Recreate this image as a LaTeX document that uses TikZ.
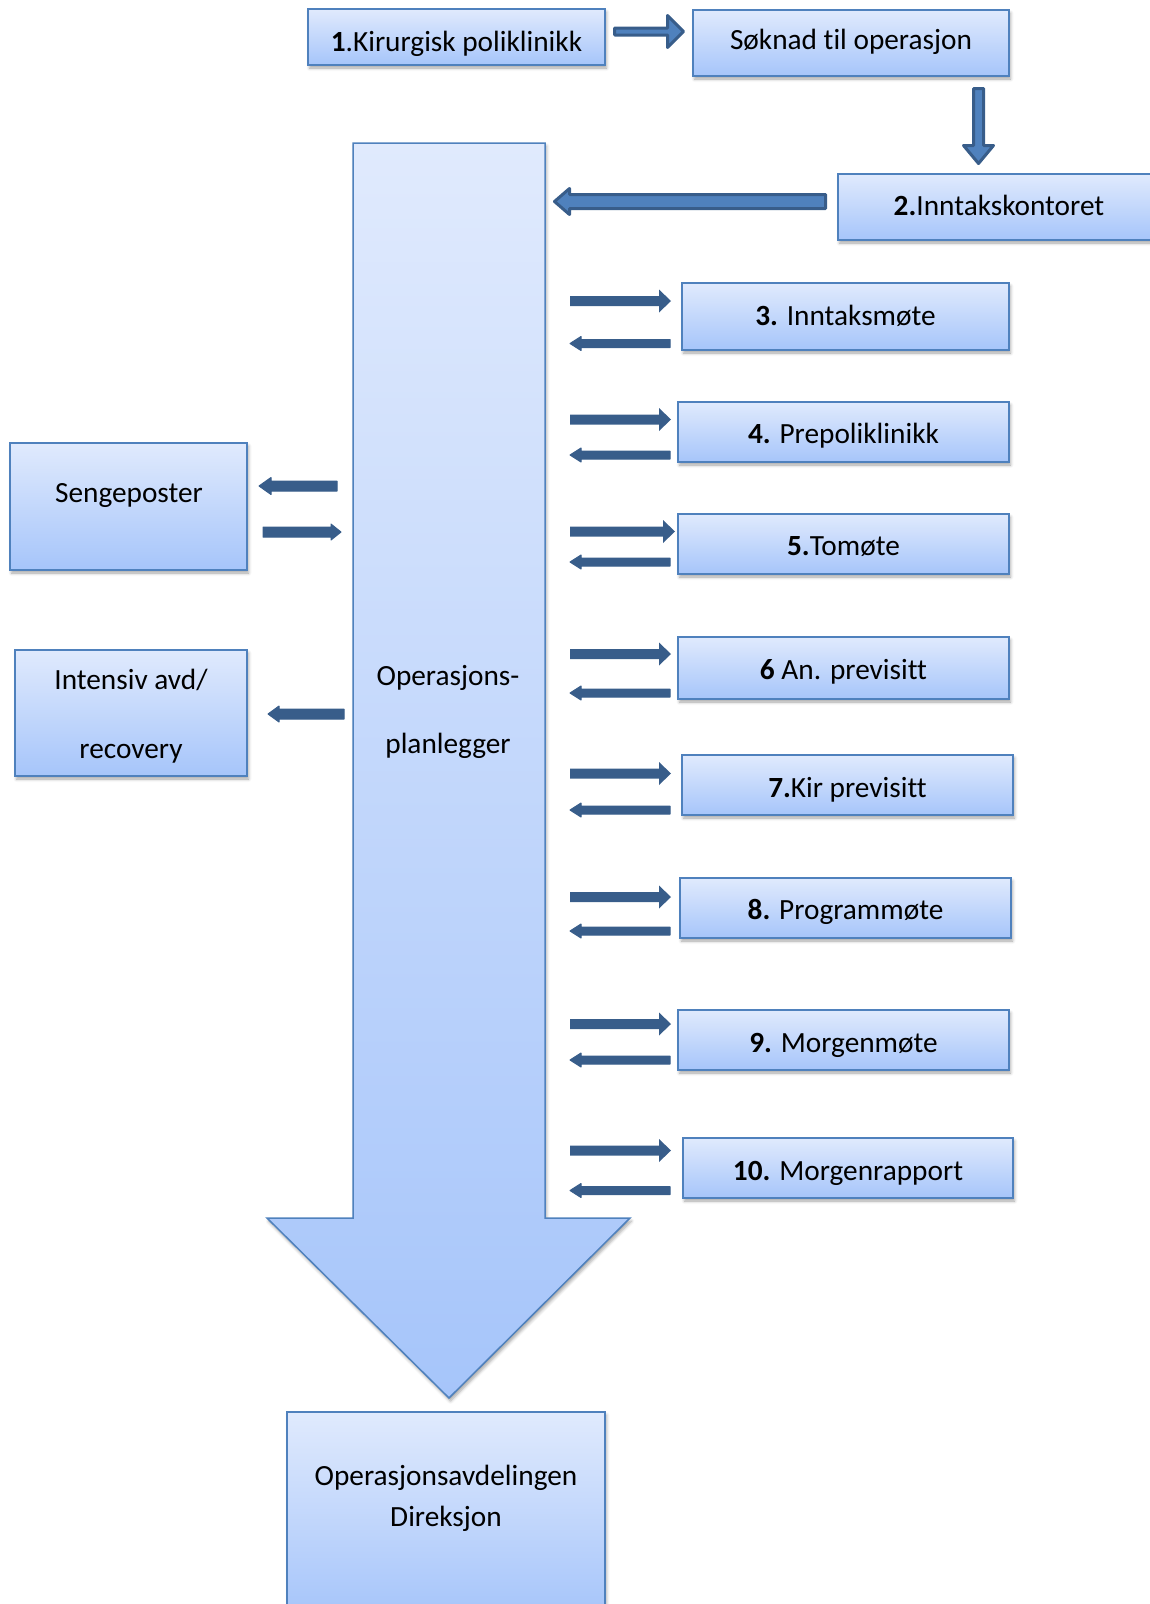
\documentclass[tikz,border=0pt]{standalone}
\usepackage{fontspec}
\setmainfont{Carlito}[Ligatures={NoCommon}]
\usetikzlibrary{calc,shadows.blur}
\definecolor{btop}{HTML}{E0EAFD}
\definecolor{bbot}{HTML}{A6C5FA}
\definecolor{bline}{HTML}{4F81BD}
\definecolor{adark}{HTML}{385D8A}
\definecolor{afill}{HTML}{4F81BD}
\newcommand\boxfont{\fontsize{29.3}{35}\selectfont}
% shift a text line down (#1 = twice the shift) or up inside its box
\newcommand\tdown[2]{\raisebox{0pt}[\dimexpr\height+#1\relax][\depth]{#2}}
\newcommand\tup[2]{\raisebox{0pt}[\height][\dimexpr\depth+#1\relax]{#2}}
% horizontal block arrow: style, start, tip, half shaft, half head, signed head length
\newcommand\harr[6]{\path[#1] let \p1=(#2), \p2=(#3) in
 (\x1,{\y1+#4}) -- ({\x2-(#6)},{\y1+#4}) -- ({\x2-(#6)},{\y1+#5}) -- (\x2,\y1)
 -- ({\x2-(#6)},{\y1-#5}) -- ({\x2-(#6)},{\y1-#4}) -- (\x1,{\y1-#4}) -- cycle;}
% vertical (downward) block arrow
\newcommand\varr[6]{\path[#1] let \p1=(#2), \p2=(#3) in
 ({\x1-#4},\y1) -- ({\x1-#4},{\y2+(#6)}) -- ({\x1-#5},{\y2+(#6)}) -- (\x1,\y2)
 -- ({\x1+#5},{\y2+(#6)}) -- ({\x1+#4},{\y2+(#6)}) -- ({\x1+#4},\y1) -- cycle;}
\tikzset{
 shadebox/.style={top color=btop, bottom color=bbot, draw=bline, line width=1.5pt},
 softshadow/.style={blur shadow={shadow xshift=1.5pt, shadow yshift=-3pt, shadow blur radius=3pt, shadow opacity=35}},
 stepbox/.style={shadebox, softshadow, rectangle, inner sep=0pt, font=\boxfont, align=center},
 plaintext/.style={inner sep=0pt, align=center},
 blockarr/.style={fill=afill, draw=adark, line width=3pt, line join=round},
 solidarr/.style={fill=adark},
 roundarr/.style={fill=adark, draw=adark, line width=1pt, line join=round},
}
\begin{document}
\begin{tikzpicture}[x=1pt,y=-1pt]
\useasboundingbox (0,0) rectangle (1150,1604);

% big arrow (Operasjonsplanlegger)
\path[shadebox, softshadow] (353,143) -- (545,143) -- (545,1218) -- (630,1218)
  -- (449,1398) -- (267,1218) -- (353,1218) -- cycle;
\node[plaintext, font={\fontsize{29.3}{68}\selectfont}] (plan) at (448,711.5) {Operasjons-\\planlegger};

% boxes
\node[stepbox, minimum width=297pt, minimum height=56pt] (b1) at (456.5,37) {\tdown{14pt}{\textbf{1}.Kirurgisk poliklinikk}};
\node[stepbox, minimum width=316pt, minimum height=66pt] (soknad) at (851,43) {\tup{2pt}{Søknad til operasjon}};
\node[stepbox, minimum width=322pt, minimum height=66pt] (b2) at (999,207) {\tup{4pt}{\textbf{2.}Inntakskontoret}};
\node[stepbox, minimum width=327pt, minimum height=67pt] (b3) at (845.5,316.5) {\tup{2pt}{\textbf{3.} Inntaksmøte}};
\node[stepbox, minimum width=331pt, minimum height=60pt] (b4) at (843.5,432) {\tdown{8pt}{\textbf{4.} Prepoliklinikk}};
\node[stepbox, minimum width=331pt, minimum height=60pt] (b5) at (843.5,544) {\tdown{6pt}{\textbf{5.}Tomøte}};
\node[stepbox, minimum width=331pt, minimum height=62pt] (b6) at (843.5,668) {\tdown{8pt}{\textbf{6} An. previsitt}};
\node[stepbox, minimum width=331pt, minimum height=60pt] (b7) at (847.5,785) {\tdown{10pt}{\textbf{7.}Kir previsitt}};
\node[stepbox, minimum width=331pt, minimum height=60pt] (b8) at (845.5,908) {\tdown{8pt}{\textbf{8.} Programmøte}};
\node[stepbox, minimum width=331pt, minimum height=60pt] (b9) at (843.5,1040) {\tdown{10pt}{\textbf{9.} Morgenmøte}};
\node[stepbox, minimum width=330pt, minimum height=60pt] (b10) at (848,1168) {\tdown{10pt}{\textbf{10.} Morgenrapport}};

\node[stepbox, minimum width=237pt, minimum height=127pt] (seng) at (128.5,506.5) {};
\node[plaintext, font=\boxfont] (sengtxt) at (129,496) {Sengeposter};
\node[stepbox, minimum width=232pt, minimum height=126pt] (intens) at (131,713) {};
\node[plaintext, font={\fontsize{29.3}{69}\selectfont}] (intenstxt) at (131,716) {Intensiv avd/\\recovery};
\node[stepbox, minimum width=318pt, minimum height=203pt] (dir) at (446,1513.5) {};
\node[plaintext, font={\fontsize{29.3}{41}\selectfont}] (dirtxt) at (446,1498) {Operasjonsavdelingen\\Direksjon};

% top block arrows
\coordinate (a1s) at (614.5,31.5); \coordinate (a1e) at (683.5,31.5);
\harr{blockarr}{a1s}{a1e}{3.5pt}{16pt}{16pt}
\coordinate (a2s) at (978.5,88.5); \coordinate (a2e) at (978.5,163.5);
\varr{blockarr}{a2s}{a2e}{5pt}{15pt}{18pt}
\coordinate (a3s) at (825.5,201.5); \coordinate (a3e) at (554.5,201.5);
\harr{blockarr}{a3s}{a3e}{7pt}{13pt}{-15pt}

% arrow pairs to the right-hand boxes
\foreach \i/\yr/\yl/\tx in {3/301/343.5/671, 4/419.5/455/671, 5/531.5/562/675,
  6/654/693/671, 7/773.5/810/671, 8/897/931/671, 9/1024/1060/671, 10/1150.5/1190.5/671}{
  \coordinate (r\i s) at (570,\yr); \coordinate (r\i e) at (\tx,\yr);
  \harr{solidarr}{r\i s}{r\i e}{5pt}{11.5pt}{12pt}
  \coordinate (l\i s) at (670,\yl); \coordinate (l\i e) at (570,\yl);
  \harr{roundarr}{l\i s}{l\i e}{4pt}{7pt}{-11pt}
}

% left-hand arrows
\coordinate (s1s) at (337,486); \coordinate (s1e) at (259,486);
\harr{roundarr}{s1s}{s1e}{5pt}{8.5pt}{-12pt}
\coordinate (s2s) at (263,532); \coordinate (s2e) at (341,532);
\harr{roundarr}{s2s}{s2e}{5pt}{8pt}{10pt}
\coordinate (i1s) at (344,714); \coordinate (i1e) at (268,714);
\harr{roundarr}{i1s}{i1e}{5pt}{8pt}{-11pt}
\end{tikzpicture}
\end{document}
